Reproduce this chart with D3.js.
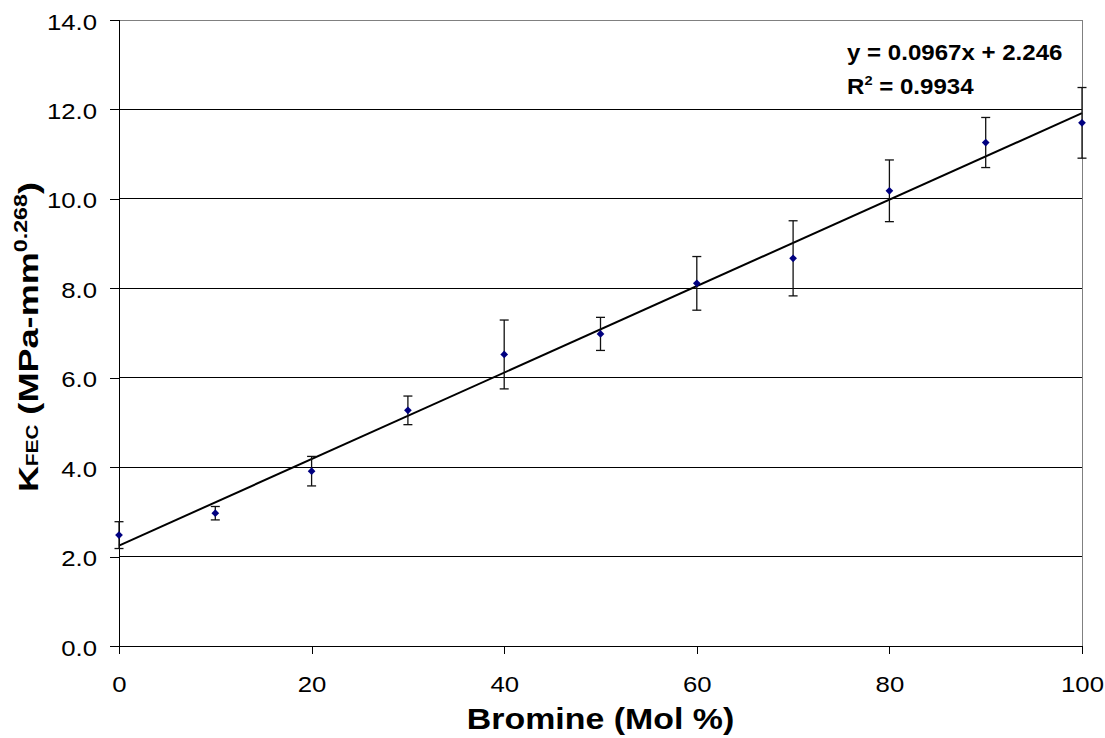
<!DOCTYPE html>
<html>
<head>
<meta charset="utf-8">
<script src="https://cdn.jsdelivr.net/npm/d3@7"></script>
<style>
  html, body { margin: 0; padding: 0; background: #fff; }
  svg { display: block; font-family: "Liberation Sans", Arial, sans-serif; }
</style>
</head>
<body>
<svg id="chart" width="1105" height="738"></svg>
<script>
// Bromine content (mol %) and measured K_FEC values with their error half-widths
const bromine = [0, 10, 20, 30, 40, 50, 60, 70, 80, 90, 100];
const kfec    = [2.48, 2.97, 3.91, 5.27, 6.52, 6.98, 8.11, 8.67, 10.18, 11.26, 11.70];
const kfecErr = [0.30, 0.15, 0.33, 0.32, 0.77, 0.37, 0.60, 0.84, 0.69, 0.56, 0.79];

// Linear trendline reported on the chart
const trendSlope = 0.0967;
const trendIntercept = 2.246;
const trendR2 = 0.9934;

const xTicks = [0, 20, 40, 60, 80, 100];
const yTicks = [0, 2, 4, 6, 8, 10, 12, 14];

const svg = d3.select("#chart");
const plotLeft = 119, plotRight = 1082, plotTop = 20, plotBottom = 646;
const textStretch = 1.12;

const x = d3.scaleLinear().domain([0, 100]).range([plotLeft, plotRight]);
const y = d3.scaleLinear().domain([0, 14]).range([plotBottom, plotTop]);

// horizontal gridlines
svg.append("g")
  .selectAll("line")
  .data(yTicks.filter(t => t > 0 && t < 14))
  .join("line")
  .attr("x1", plotLeft).attr("x2", plotRight)
  .attr("y1", d => y(d)).attr("y2", d => y(d))
  .attr("stroke", "#000").attr("stroke-width", 1)
  .attr("shape-rendering", "crispEdges");

// plot-area frame (top and right)
svg.append("path")
  .attr("d", `M${plotLeft},${y(14)}H${plotRight}V${plotBottom}`)
  .attr("fill", "none").attr("stroke", "#808080").attr("stroke-width", 1)
  .attr("shape-rendering", "crispEdges");

// y axis
const yAxis = svg.append("g")
  .attr("transform", `translate(${plotLeft},0)`)
  .call(d3.axisLeft(y).tickValues(yTicks).tickSize(9).tickFormat(d3.format(".1f")));
yAxis.select(".domain").attr("stroke", "#000").attr("shape-rendering", "crispEdges");
yAxis.selectAll(".tick line").attr("stroke", "#000").attr("shape-rendering", "crispEdges");
yAxis.selectAll(".tick text")
  .attr("font-size", 23).attr("font-family", "Liberation Sans, Arial, sans-serif")
  .attr("fill", "#000")
  .attr("x", null).attr("dy", null)
  .attr("dominant-baseline", "central")
  .attr("transform", `translate(-22,1) scale(${textStretch},1)`);

// x axis
const xAxis = svg.append("g")
  .attr("transform", `translate(0,${plotBottom})`)
  .call(d3.axisBottom(x).tickValues(xTicks).tickSize(8).tickFormat(d3.format("d")));
xAxis.select(".domain").attr("stroke", "#000").attr("shape-rendering", "crispEdges");
xAxis.selectAll(".tick line").attr("stroke", "#000").attr("shape-rendering", "crispEdges");
xAxis.selectAll(".tick text")
  .attr("font-size", 23).attr("font-family", "Liberation Sans, Arial, sans-serif")
  .attr("fill", "#000")
  .attr("y", null).attr("dy", null)
  .attr("transform", `translate(0,46) scale(${textStretch},1)`);

// trendline
svg.append("line")
  .attr("x1", x(0)).attr("y1", y(trendIntercept))
  .attr("x2", x(100)).attr("y2", y(trendSlope * 100 + trendIntercept))
  .attr("stroke", "#000").attr("stroke-width", 2);

// error bars
const pts = bromine.map((b, i) => ({ b, v: kfec[i], e: kfecErr[i] }));
const eb = svg.append("g").attr("stroke", "#111").attr("stroke-width", 1.3);
const capHalf = 4.5;
pts.forEach(p => {
  const cx = x(p.b), y1 = y(p.v + p.e), y2 = y(p.v - p.e);
  eb.append("line").attr("x1", cx).attr("x2", cx).attr("y1", y1).attr("y2", y2);
  eb.append("line").attr("x1", cx - capHalf).attr("x2", cx + capHalf).attr("y1", y1).attr("y2", y1);
  eb.append("line").attr("x1", cx - capHalf).attr("x2", cx + capHalf).attr("y1", y2).attr("y2", y2);
});

// diamond markers
svg.append("g")
  .selectAll("path")
  .data(pts)
  .join("path")
  .attr("d", d3.symbol(d3.symbolDiamond2, 38))
  .attr("transform", d => `translate(${x(d.b)},${y(d.v)})`)
  .attr("fill", "#000080");

// trendline equation
const eq = svg.append("g").attr("font-weight", "bold").attr("font-size", 21.5).attr("fill", "#000");
eq.append("text")
  .attr("transform", `translate(847,60) scale(${textStretch},1)`)
  .text(`y = ${trendSlope}x + ${trendIntercept}`);
const r2 = eq.append("text")
  .attr("transform", `translate(847,94) scale(${textStretch},1)`);
r2.append("tspan").text("R");
r2.append("tspan").attr("font-size", 13).attr("dy", -9).text("2");
r2.append("tspan").attr("dy", 9).text(` = ${trendR2}`);

// x axis title
svg.append("text")
  .attr("transform", `translate(${(plotLeft + plotRight) / 2},729) scale(1.13,1)`)
  .attr("text-anchor", "middle")
  .attr("font-weight", "bold").attr("font-size", 30)
  .text("Bromine (Mol %)");

// y axis title: K_FEC (MPa-mm^0.268)
const yt = svg.append("text")
  .attr("transform", "translate(38,492) rotate(-90) scale(1.29,1)")
  .attr("font-weight", "bold").attr("font-size", 28);
yt.append("tspan").text("K");
yt.append("tspan").attr("font-size", 16).text("FEC");
yt.append("tspan").text(" (MPa-mm");
yt.append("tspan").attr("font-size", 18).attr("dy", -11).text("0.268");
yt.append("tspan").attr("dy", 11).text(")");
</script>
</body>
</html>
